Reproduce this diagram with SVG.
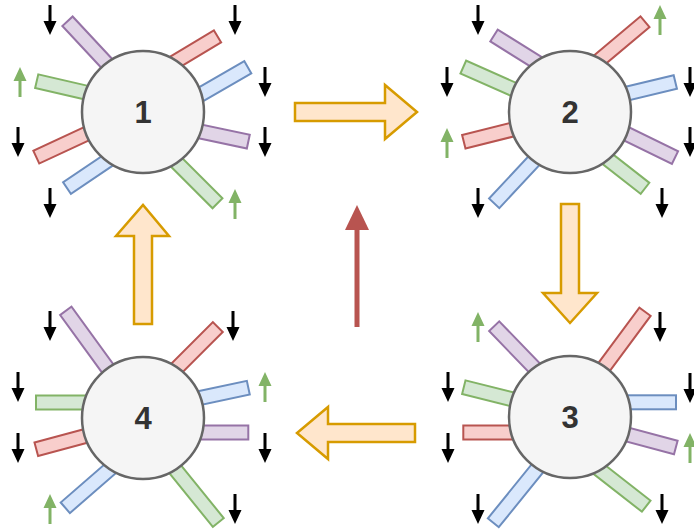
<svg xmlns="http://www.w3.org/2000/svg" xmlns:xlink="http://www.w3.org/1999/xlink" width="694" height="531" viewBox="0 0 694 531">
<style>
.pu{fill:#e1d5e7;stroke:#9673a6;stroke-width:2}
.re{fill:#f8cecc;stroke:#b85450;stroke-width:2}
.bl{fill:#dae8fc;stroke:#6c8ebf;stroke-width:2}
.gr{fill:#d5e8d4;stroke:#82b366;stroke-width:2}
.hub{fill:#f5f5f5;stroke:#666666;stroke-width:2.5}
.num{font-family:"Liberation Sans",Arial,sans-serif;font-weight:bold;font-size:31px;fill:#333333;text-anchor:middle}
.big{fill:#ffe6cc;stroke:#d79b00;stroke-width:2.5;stroke-linejoin:miter}
.k{fill:#000000}
.g{fill:#82b366}
</style>
<defs>
<path id="dn" d="M-1.5,0 H1.5 V16 H6.5 L0,30 L-6.5,16 H-1.5 Z"/>
<path id="up" d="M-1.5,30 H1.5 V14 H6.5 L0,0 L-6.5,14 H-1.5 Z"/>
</defs>

<g id="connectors">
<path class="big" d="M295,103 H385 V85 L417,112 L385,139 V121 H295 Z"/>
<path class="big" d="M561,204 H579 V293 H597 L570,323 L543,293 H561 Z"/>
<path class="big" d="M415,424 V442 H328 V459 L297,433 L328,407 V424 Z"/>
<path class="big" d="M134,324 V236 H116 L143,205 L169,236 H152 V324 Z"/>
<g id="red-arrow">
<rect x="354.5" y="228" width="5" height="99" fill="#b85450"/>
<polygon points="345,230 369,230 357,205" fill="#b85450"/>
</g>
</g>

<g id="node1">
<rect class="pu" x="-110" y="-7" width="110" height="14" transform="translate(67.5,21.3) rotate(-133)"/>
<rect class="re" x="-100" y="-7" width="100" height="14" transform="translate(217.5,36.3) rotate(-31)"/>
<rect class="bl" x="-105" y="-7" width="105" height="14" transform="translate(247.8,67.2) rotate(-30)"/>
<rect class="pu" x="-100" y="-7" width="100" height="14" transform="translate(248.3,141.7) rotate(12)"/>
<rect class="gr" x="-105" y="-7" width="105" height="14" transform="translate(217.5,203.3) rotate(45)"/>
<rect class="bl" x="-100" y="-7" width="100" height="14" transform="translate(67,188) rotate(146)"/>
<rect class="re" x="-105" y="-7" width="105" height="14" transform="translate(36.3,157.2) rotate(155)"/>
<rect class="gr" x="-100" y="-7" width="100" height="14" transform="translate(36.7,81.2) rotate(193)"/>
<circle class="hub" cx="143" cy="112" r="61"/>
<text class="num" x="143" y="123">1</text>
<use href="#dn" xlink:href="#dn" class="k" x="50" y="5"/>
<use href="#dn" xlink:href="#dn" class="k" x="235" y="5"/>
<use href="#up" xlink:href="#up" class="g" x="20" y="67"/>
<use href="#dn" xlink:href="#dn" class="k" x="265" y="67"/>
<use href="#dn" xlink:href="#dn" class="k" x="18" y="127"/>
<use href="#dn" xlink:href="#dn" class="k" x="265" y="127"/>
<use href="#dn" xlink:href="#dn" class="k" x="50" y="188"/>
<use href="#up" xlink:href="#up" class="g" x="235" y="189"/>
</g>

<g id="node2">
<rect class="pu" x="-100" y="-7" width="100" height="14" transform="translate(494,35.5) rotate(-148)"/>
<rect class="gr" x="-105" y="-7" width="105" height="14" transform="translate(463.3,67) rotate(-156)"/>
<rect class="re" x="-100" y="-7" width="100" height="14" transform="translate(463.8,141.7) rotate(166)"/>
<rect class="bl" x="-108" y="-7" width="108" height="14" transform="translate(494.2,203.3) rotate(133)"/>
<rect class="re" x="-108" y="-7" width="108" height="14" transform="translate(645,21.7) rotate(-40)"/>
<rect class="bl" x="-100" y="-7" width="100" height="14" transform="translate(675.3,82) rotate(-13.5)"/>
<rect class="pu" x="-105" y="-7" width="105" height="14" transform="translate(675,157.5) rotate(26)"/>
<rect class="gr" x="-100" y="-7" width="100" height="14" transform="translate(645,188.3) rotate(38)"/>
<circle class="hub" cx="570" cy="112" r="61"/>
<text class="num" x="570" y="123">2</text>
<use href="#dn" xlink:href="#dn" class="k" x="478" y="5"/>
<use href="#up" xlink:href="#up" class="g" x="660" y="5"/>
<use href="#dn" xlink:href="#dn" class="k" x="447" y="67"/>
<use href="#dn" xlink:href="#dn" class="k" x="690" y="67"/>
<use href="#up" xlink:href="#up" class="g" x="447" y="128"/>
<use href="#dn" xlink:href="#dn" class="k" x="690" y="127"/>
<use href="#dn" xlink:href="#dn" class="k" x="478" y="188"/>
<use href="#dn" xlink:href="#dn" class="k" x="662" y="188"/>
</g>

<g id="node3">
<rect class="pu" x="-108" y="-7" width="108" height="14" transform="translate(494.2,326.2) rotate(-134)"/>
<rect class="re" x="-118" y="-7" width="118" height="14" transform="translate(645,311.7) rotate(-53.5)"/>
<rect class="gr" x="-100" y="-7" width="100" height="14" transform="translate(463.8,387.2) rotate(-166)"/>
<rect class="re" x="-100" y="-7" width="100" height="14" transform="translate(463.3,432.5) rotate(180)"/>
<rect class="bl" x="-100" y="-7" width="100" height="14" transform="translate(676,402.3)"/>
<rect class="pu" x="-100" y="-7" width="100" height="14" transform="translate(675.8,447.5) rotate(15)"/>
<rect class="gr" x="-108" y="-7" width="108" height="14" transform="translate(646.2,506.2) rotate(38)"/>
<rect class="bl" x="-120" y="-7" width="120" height="14" transform="translate(493.3,522.8) rotate(129)"/>
<circle class="hub" cx="570" cy="417" r="61"/>
<text class="num" x="570" y="428">3</text>
<use href="#up" xlink:href="#up" class="g" x="478" y="312"/>
<use href="#dn" xlink:href="#dn" class="k" x="660" y="312"/>
<use href="#dn" xlink:href="#dn" class="k" x="448" y="372"/>
<use href="#dn" xlink:href="#dn" class="k" x="690" y="373"/>
<use href="#dn" xlink:href="#dn" class="k" x="448" y="433"/>
<use href="#up" xlink:href="#up" class="g" x="690" y="433"/>
<use href="#dn" xlink:href="#dn" class="k" x="478" y="494"/>
<use href="#dn" xlink:href="#dn" class="k" x="662" y="494"/>
</g>

<g id="node4">
<rect class="pu" x="-120" y="-7" width="120" height="14" transform="translate(65.8,310.8) rotate(-126)"/>
<rect class="re" x="-108" y="-7" width="108" height="14" transform="translate(217.8,327) rotate(-45)"/>
<rect class="bl" x="-100" y="-7" width="100" height="14" transform="translate(248.3,387.7) rotate(-12)"/>
<rect class="pu" x="-100" y="-7" width="100" height="14" transform="translate(248.3,432.5)"/>
<rect class="gr" x="-118" y="-7" width="118" height="14" transform="translate(218.3,522.5) rotate(51)"/>
<rect class="bl" x="-108" y="-7" width="108" height="14" transform="translate(65.3,507.8) rotate(139)"/>
<rect class="re" x="-100" y="-7" width="100" height="14" transform="translate(36.3,449.2) rotate(165)"/>
<rect class="gr" x="-100" y="-7" width="100" height="14" transform="translate(36,402.5) rotate(180)"/>
<circle class="hub" cx="143" cy="418" r="61"/>
<text class="num" x="143" y="429">4</text>
<use href="#dn" xlink:href="#dn" class="k" x="50" y="311"/>
<use href="#dn" xlink:href="#dn" class="k" x="233" y="311"/>
<use href="#dn" xlink:href="#dn" class="k" x="18" y="372"/>
<use href="#up" xlink:href="#up" class="g" x="265" y="372"/>
<use href="#dn" xlink:href="#dn" class="k" x="18" y="433"/>
<use href="#dn" xlink:href="#dn" class="k" x="265" y="433"/>
<use href="#up" xlink:href="#up" class="g" x="50" y="494"/>
<use href="#dn" xlink:href="#dn" class="k" x="235" y="494"/>
</g>
</svg>
